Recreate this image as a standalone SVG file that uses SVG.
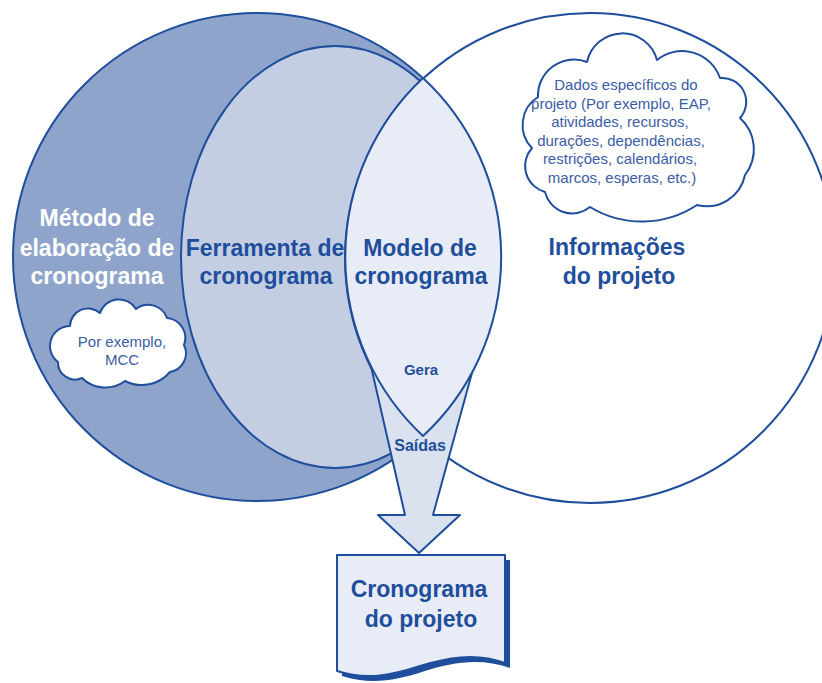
<svg xmlns="http://www.w3.org/2000/svg" width="822" height="683" viewBox="0 0 822 683">
<style>
.ln{stroke:#1f4e9c;stroke-width:2;stroke-linejoin:round}
.big{font-family:"Liberation Sans",Arial,sans-serif;font-weight:bold;font-size:23px;text-anchor:middle;fill:#1f4e9c}
.wht{fill:#ffffff}
.cl{font-family:"Liberation Sans",Arial,sans-serif;font-size:15px;text-anchor:middle;fill:#3b5ca6}
.sm{font-family:"Liberation Sans",Arial,sans-serif;font-weight:bold;text-anchor:middle;fill:#1f4e9c}
</style>
<defs>
<clipPath id="c1clip"><circle cx="257" cy="257" r="244"/></clipPath>
</defs>
<rect width="822" height="683" fill="#ffffff"/>

<g id="metodo">
<circle class="ln" cx="257" cy="257" r="244" fill="#8ea4cb"/>
</g>
<g id="ferramenta">
<ellipse class="ln" cx="335" cy="257" rx="154" ry="211" fill="#c3cee3" clip-path="url(#c1clip)"/>
</g>
<g id="informacoes">
<circle class="ln" cx="590" cy="258" r="245" fill="#ffffff"/>
</g>

<g id="connectors">
<polygon class="ln" points="365,340 405,515 378,515 419,553 460,515 433,515 481,340" fill="#dbe2ef"/>
</g>

<g id="modelo">
<path class="ln" d="M423,78 A245,245 0 0 0 423,436 A244,244 0 0 0 423,78 Z" fill="#e8ecf6"/>
</g>

<g id="labels">
<text class="big wht" x="97" y="226">Método de</text>
<text class="big wht" x="97" y="256">elaboração de</text>
<text class="big wht" x="97" y="284">cronograma</text>
<text class="big" x="265" y="256">Ferramenta de</text>
<text class="big" x="266" y="284">cronograma</text>
<text class="big" x="420" y="256">Modelo de</text>
<text class="big" x="421" y="284">cronograma</text>
<text class="big" x="617" y="255">Informações</text>
<text class="big" x="619" y="284">do projeto</text>
<text class="sm" x="421" y="375" font-size="15">Gera</text>
<text class="sm" x="420" y="451" font-size="16">Saídas</text>
</g>

<g id="cloud-dados">
<path class="ln" stroke-width="2.5" fill="#ffffff" d="M587,62 A36,36 0 0 1 657,60 A40,40 0 0 1 720,78 A24,24 0 0 1 740,118 A42,42 0 0 1 745,175 A39,39 0 0 1 697,205 A100,100 0 0 1 590,207 A28,28 0 0 1 545,192 A27,27 0 0 1 532,148 A33,33 0 0 1 538,97 A36,36 0 0 1 587,62 Z"/>
<text class="cl" x="626" y="90">Dados específicos do</text>
<text class="cl" x="621" y="108.6">projeto (Por exemplo, EAP,</text>
<text class="cl" x="620" y="127.2">atividades, recursos,</text>
<text class="cl" x="621" y="145.8">durações, dependências,</text>
<text class="cl" x="620" y="164.4">restrições, calendários,</text>
<text class="cl" x="622" y="183">marcos, esperas, etc.)</text>
</g>

<g id="cloud-mcc">
<path class="ln" stroke-width="2.5" fill="#ffffff" d="M70,326 A18,18 0 0 1 100,313 A20,20 0 0 1 136,309 A20,20 0 0 1 167,318 A20,20 0 0 1 184,345 A19,19 0 0 1 170,372 A37,37 0 0 1 125,381 A33,33 0 0 1 82,378 A17,17 0 0 1 58,362 A20,20 0 0 1 70,326 Z"/>
<text class="cl" x="122" y="347" font-size="15.5">Por exemplo,</text>
<text class="cl" x="122" y="365" font-size="15.5">MCC</text>
</g>

<g id="cronograma-projeto">
<path d="M342,560 H510 V668 C480,657 450,663 425,671 C395,681 370,685 342,676 Z" fill="#1f4e9c"/>
<path class="ln" d="M337,555 H505 V663 C475,652 445,658 420,666 C390,676 365,680 337,671 Z" fill="#e8ecf6"/>
<text class="big" x="419" y="597" font-size="22">Cronograma</text>
<text class="big" x="421" y="627" font-size="22">do projeto</text>
</g>
</svg>
